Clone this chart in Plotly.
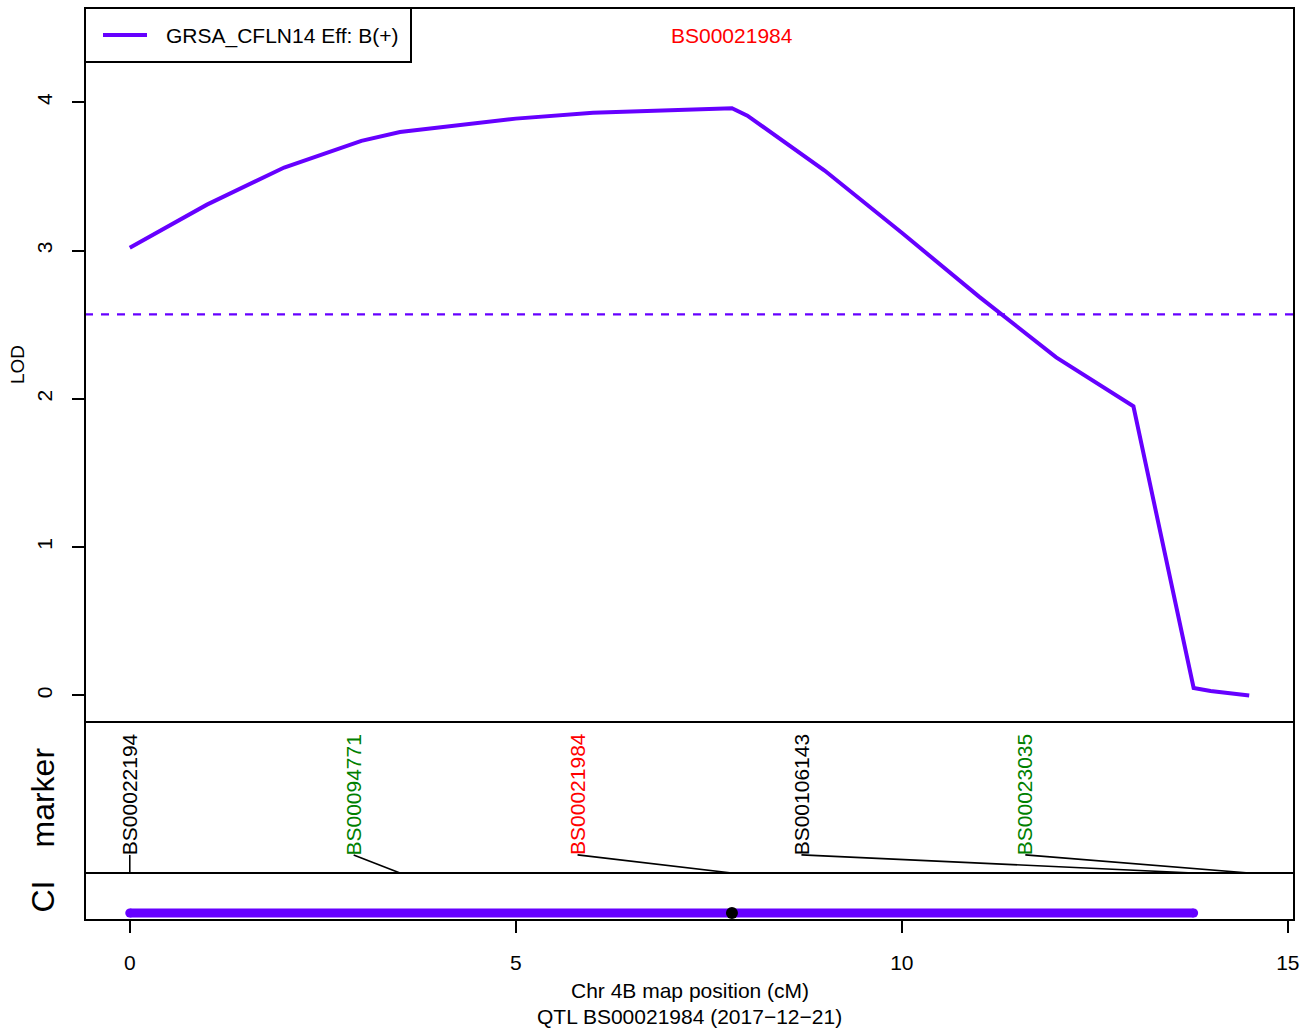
import plotly.graph_objects as go

# ---------------- data ----------------
lod_pos = [0, 1, 2, 3, 3.5, 4, 5, 6, 7, 7.8, 8, 9, 10, 11, 12, 13, 13.78, 14, 14.5]
lod_val = [3.02, 3.31, 3.56, 3.74, 3.80, 3.83, 3.89, 3.93, 3.95, 3.96, 3.91, 3.54,
           3.12, 2.69, 2.28, 1.95, 0.05, 0.03, 0.0]
trait_name = "GRSA_CFLN14 Eff: B(+)"
threshold = 2.57

marker_names = ["BS00022194", "BS00094771", "BS00021984", "BS00106143", "BS00023035"]
marker_pos = [0.0, 3.5, 7.8, 13.78, 14.5]
marker_colors = ["black", "#008000", "#FF0000", "black", "#008000"]

peak_marker = "BS00021984"
peak_pos = 7.8
ci_low, ci_high = 0.0, 13.78

x_ticks = [0, 5, 10, 15]
y_ticks = [0, 1, 2, 3, 4]
x_title = "Chr 4B map position (cM)"
sub_title = "QTL BS00021984 (2017\u221212\u221221)"

# ---------------- style ----------------
PURPLE = "#6600FF"
FONT = "Liberation Sans, Arial, Helvetica, sans-serif"
FS = 21
W, H = 1311, 1031
ML, MR, MT, MB = 85, 17, 8, 111
PH = H - MT - MB  # plot height in px
PW = W - ML - MR


def py(pix):
    """pixel row -> paper y"""
    return (H - MB - pix) / PH


def px(pix):
    return (pix - ML) / PW


main_dom = [py(722), 1.0]
mark_dom = [py(873), py(722)]
ci_dom = [0.0, py(873)]

fig = go.Figure()

# LOD curve
fig.add_trace(go.Scatter(x=lod_pos, y=lod_val, mode="lines", name=trait_name,
                         line=dict(color=PURPLE, width=4), xaxis="x", yaxis="y",
                         showlegend=False))

# marker label connectors (labels spread evenly along the map)
n = len(marker_names)
span = max(marker_pos) - min(marker_pos)
label_x = [min(marker_pos) + i * span / n for i in range(n)]
label_base = 0.12
for lx, mp in zip(label_x, marker_pos):
    fig.add_trace(go.Scatter(x=[lx, mp], y=[label_base, 0], mode="lines",
                             line=dict(color="black", width=1.6),
                             xaxis="x", yaxis="y2", showlegend=False, hoverinfo="skip"))

# CI bar
ci_level = 0.15
fig.add_trace(go.Scatter(x=[ci_low, ci_high], y=[ci_level, ci_level], mode="lines+markers",
                         line=dict(color=PURPLE, width=9),
                         marker=dict(color=PURPLE, size=9, line=dict(width=0)),
                         xaxis="x", yaxis="y3", showlegend=False))
fig.add_trace(go.Scatter(x=[peak_pos], y=[ci_level], mode="markers",
                         marker=dict(color="black", size=12, line=dict(width=0)),
                         xaxis="x", yaxis="y3", showlegend=False))

shapes = []
# threshold
shapes.append(dict(type="line", xref="paper", yref="y", x0=0, x1=1, y0=threshold, y1=threshold,
                   line=dict(color=PURPLE, width=2.2, dash="8px,8px")))
# panel boxes
for dom in (main_dom, mark_dom, ci_dom):
    shapes.append(dict(type="rect", xref="paper", yref="paper", x0=0, x1=1, y0=dom[0], y1=dom[1],
                       line=dict(color="black", width=2), fillcolor="rgba(0,0,0,0)"))
# legend box
shapes.append(dict(type="rect", xref="paper", yref="paper", x0=0, x1=px(411), y0=py(62), y1=1,
                   line=dict(color="black", width=2), fillcolor="white", layer="above"))
shapes.append(dict(type="line", xref="paper", yref="paper", x0=px(103), x1=px(147),
                   y0=py(35), y1=py(35), line=dict(color=PURPLE, width=4), layer="above"))

ann = []
ann.append(dict(text=trait_name, xref="paper", yref="paper", x=px(164), y=py(36),
                xanchor="left", yanchor="middle", showarrow=False,
                font=dict(size=FS, color="black", family=FONT)))
ann.append(dict(text=peak_marker, xref="x", yref="paper", x=peak_pos, y=py(36),
                xanchor="center", yanchor="middle", showarrow=False,
                font=dict(size=FS, color="#FF0000", family=FONT)))
for name, lx, col in zip(marker_names, label_x, marker_colors):
    ann.append(dict(text=name, xref="x", yref="y2", x=lx, y=label_base - 0.01, textangle=-90,
                    xanchor="center", yanchor="bottom", showarrow=False, borderpad=0,
                    font=dict(size=FS, color=col, family=FONT)))
ann.append(dict(text="LOD", xref="paper", yref="paper", x=px(17), y=(main_dom[0] + main_dom[1]) / 2,
                textangle=-90, xanchor="center", yanchor="middle", showarrow=False,
                font=dict(size=19, color="black", family=FONT)))
ann.append(dict(text="marker", xref="paper", yref="paper", x=px(42), y=(mark_dom[0] + mark_dom[1]) / 2,
                textangle=-90, xanchor="center", yanchor="middle", showarrow=False,
                font=dict(size=32, color="black", family=FONT)))
ann.append(dict(text="CI", xref="paper", yref="paper", x=px(42), y=(ci_dom[0] + ci_dom[1]) / 2,
                textangle=-90, xanchor="center", yanchor="middle", showarrow=False,
                font=dict(size=32, color="black", family=FONT)))
ann.append(dict(text=x_title, xref="paper", yref="paper", x=0.5, y=py(990),
                xanchor="center", yanchor="middle", showarrow=False,
                font=dict(size=FS, color="black", family=FONT)))
ann.append(dict(text=sub_title, xref="paper", yref="paper", x=0.5, y=py(1017),
                xanchor="center", yanchor="middle", showarrow=False,
                font=dict(size=FS, color="black", family=FONT)))

fig.update_layout(
    width=W, height=H, autosize=False,
    margin=dict(l=ML, r=MR, t=MT, b=MB, pad=0),
    paper_bgcolor="white", plot_bgcolor="white",
    font=dict(family=FONT, size=FS, color="black"),
    showlegend=False,
    xaxis=dict(range=[-0.58, 15.08], anchor="y3", tickvals=x_ticks, ticks="outside",
               ticklen=12, tickwidth=1.8, tickcolor="black", showgrid=False, zeroline=False,
               showline=False, ticklabelstandoff=12,
               tickfont=dict(size=FS, color="black", family=FONT)),
    yaxis=dict(domain=main_dom, range=[-0.179, 4.636], anchor="x", tickvals=y_ticks,
               ticks="outside", ticklen=12, tickwidth=1.8, tickcolor="black", tickangle=-90,
               showgrid=False, zeroline=False, showline=False, ticklabelstandoff=12,
               tickfont=dict(size=FS, color="black", family=FONT)),
    yaxis2=dict(domain=mark_dom, range=[0, 1], anchor="x", showticklabels=False, ticks="",
                showgrid=False, zeroline=False, showline=False),
    yaxis3=dict(domain=ci_dom, range=[0, 1], anchor="x", showticklabels=False, ticks="",
                showgrid=False, zeroline=False, showline=False),
    shapes=shapes, annotations=ann,
)

fig.write_html("out.html", config={"displayModeBar": False},
               post_script="document.body.style.margin='0';document.body.style.padding='0';")
